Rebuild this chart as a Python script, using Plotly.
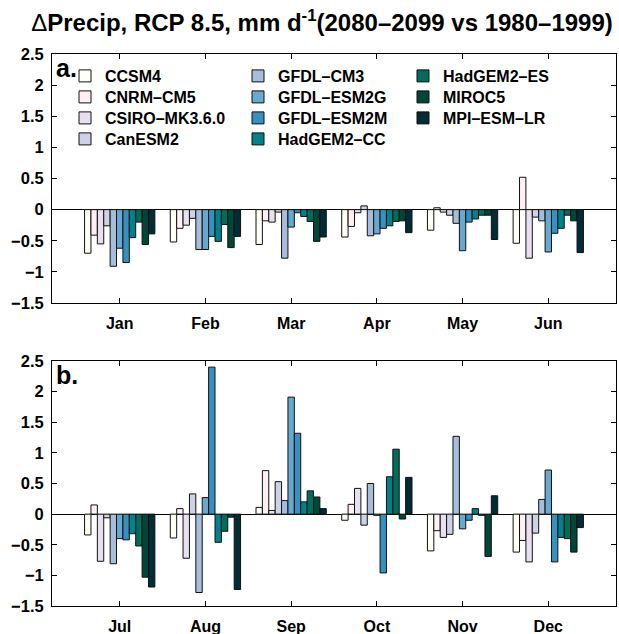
import plotly.graph_objects as go

# ---- data (mm/day change, 2080-2099 vs 1980-1999) ----
months_a = ["Jan", "Feb", "Mar", "Apr", "May", "Jun"]
months_b = ["Jul", "Aug", "Sep", "Oct", "Nov", "Dec"]

models = ["CCSM4", "CNRM–CM5", "CSIRO–MK3.6.0", "CanESM2", "GFDL–CM3",
          "GFDL–ESM2G", "GFDL–ESM2M", "HadGEM2–CC", "HadGEM2–ES", "MIROC5", "MPI–ESM–LR"]

ccsm4      = [-0.70, -0.52, -0.56, -0.44, -0.33, -0.54, -0.34, -0.39, 0.11, -0.10, -0.60, -0.62]
cnrm_cm5   = [-0.41, -0.30, -0.18, -0.27, 0.03, 0.52, 0.15, 0.09, 0.71, 0.16, -0.27, -0.43]
csiro_mk36 = [-0.55, -0.25, -0.20, -0.05, -0.04, -0.78, -0.77, -0.72, 0.06, 0.42, -0.38, -0.78]
canesm2    = [-0.26, -0.14, -0.04, 0.06, -0.09, -0.12, -0.06, 0.33, 0.53, -0.18, -0.33, -0.31]
gfdl_cm3   = [-0.91, -0.64, -0.78, -0.42, -0.22, -0.18, -0.81, -1.28, 0.22, 0.50, 1.27, 0.24]
gfdl_esm2g = [-0.62, -0.64, -0.28, -0.39, -0.66, -0.68, -0.40, 0.27, 1.91, -0.02, -0.24, 0.72]
gfdl_esm2m = [-0.85, -0.43, -0.05, -0.30, -0.20, -0.38, -0.42, 2.40, 1.32, -0.96, -0.10, -0.78]
hadgem2_cc = [-0.45, -0.51, -0.11, -0.26, -0.15, -0.30, -0.32, -0.46, 0.20, 0.61, 0.09, -0.38]
hadgem2_es = [-0.20, -0.24, -0.19, -0.19, -0.09, -0.09, -0.52, -0.28, 0.38, 1.06, -0.02, -0.40]
miroc5     = [-0.56, -0.61, -0.51, -0.18, -0.09, -0.18, -1.03, -0.05, 0.28, -0.08, -0.69, -0.62]
mpi_esm_lr = [-0.39, -0.43, -0.44, -0.37, -0.48, -0.69, -1.19, -1.23, 0.09, 0.60, 0.30, -0.22]

series = [ccsm4, cnrm_cm5, csiro_mk36, canesm2, gfdl_cm3, gfdl_esm2g,
          gfdl_esm2m, hadgem2_cc, hadgem2_es, miroc5, mpi_esm_lr]

colors = ["#FFFFF5", "#FFF0F3", "#E8E0EE", "#CFD1E6", "#A6BDDB", "#67A9CF",
          "#3690C0", "#02818A", "#016C59", "#014636", "#012C36"]

ytick_vals = [-1.5, -1, -0.5, 0, 0.5, 1, 1.5, 2, 2.5]
ytick_text = ["−1.5", "−1", "−0.5", "0", "0.5", "1", "1.5", "2", "2.5"]

W, H = 619, 634
ML, MR = 52, 3
PW = W - ML - MR
FONT = "Liberation Sans, Arial, Helvetica, sans-serif"

# legend layout: 3 columns x 4 rows (one legend per entry)
leg_col_px = [65, 238, 403]
leg_row_px = [76, 97, 118, 139]

fig = go.Figure()
legend_ids = ["legend" if i == 0 else f"legend{i + 1}" for i in range(len(models))]
for name, vals, col, lg in zip(models, series, colors, legend_ids):
    fig.add_trace(go.Bar(x=months_a, y=vals[:6], name=name, marker_color=col,
                         marker_line=dict(color="#111111", width=1),
                         xaxis="x", yaxis="y", legend=lg, legendgroup=name,
                         showlegend=True))
    fig.add_trace(go.Bar(x=months_b, y=vals[6:], name=name, marker_color=col,
                         marker_line=dict(color="#111111", width=1),
                         xaxis="x2", yaxis="y2", legendgroup=name,
                         showlegend=False))

tickfont = dict(family=FONT, size=16, color="black", weight=700)
xcommon = dict(type="category", range=[-0.79, 5.79], showline=True, linecolor="black",
               linewidth=1, mirror="ticks", ticks="inside", ticklen=5, tickcolor="black",
               showgrid=False, zeroline=False, tickfont=tickfont, automargin=False,
               tickangle=0, fixedrange=True, ticklabelstandoff=6)
ycommon = dict(range=[-1.5, 2.5], tickvals=ytick_vals, ticktext=ytick_text,
               showline=True, linecolor="black", linewidth=1, mirror="ticks",
               ticks="inside", ticklen=5, tickcolor="black", showgrid=False,
               zeroline=True, zerolinecolor="black", zerolinewidth=1,
               tickfont=dict(family=FONT, size=16.5, color="black", weight=700),
               automargin=False, ticklabelstandoff=4)

ya = [1 - 303 / H, 1 - 54 / H]
yb = [1 - 606 / H, 1 - 361 / H]

legfont = dict(family=FONT, size=16, color="black", weight=700)
def leg(xpx, ypx):
    return dict(x=(xpx - ML) / PW, y=1 - ypx / H, xref="paper", yref="paper",
                xanchor="left", yanchor="middle", bgcolor="rgba(0,0,0,0)",
                font=legfont, orientation="v", itemclick=False, itemdoubleclick=False,
                tracegroupgap=0)

legends = {}
for i, lg in enumerate(legend_ids):
    legends[lg] = leg(leg_col_px[i // 4], leg_row_px[i % 4])

fig.update_layout(
    width=W, height=H,
    margin=dict(l=ML, r=MR, t=0, b=0, autoexpand=False),
    paper_bgcolor="white", plot_bgcolor="white",
    barmode="group", bargap=0.18, bargroupgap=0,
    xaxis=dict(domain=[0, 1], anchor="y", **xcommon),
    yaxis=dict(domain=ya, anchor="x", **ycommon),
    xaxis2=dict(domain=[0, 1], anchor="y2", **xcommon),
    yaxis2=dict(domain=yb, anchor="x2", **ycommon),
    title=dict(text="Δ<b>Precip, RCP 8.5, mm d<sup>-1</sup>(2080–2099 vs 1980–1999)</b>",
               x=322 / W, y=1 - 23 / H, xref="container", yref="container",
               xanchor="center", yanchor="middle",
               font=dict(family=FONT, size=24, color="black")),
    annotations=[
        dict(text="<b>a.</b>", xref="x domain", yref="y domain", x=0.003, y=1.01,
             xanchor="left", yanchor="top", showarrow=False,
             font=dict(family=FONT, size=25, color="black")),
        dict(text="<b>b.</b>", xref="x2 domain", yref="y2 domain", x=0.003, y=1.01,
             xanchor="left", yanchor="top", showarrow=False,
             font=dict(family=FONT, size=25, color="black")),
    ],
    **legends,
)

fig.write_html("out.html")
